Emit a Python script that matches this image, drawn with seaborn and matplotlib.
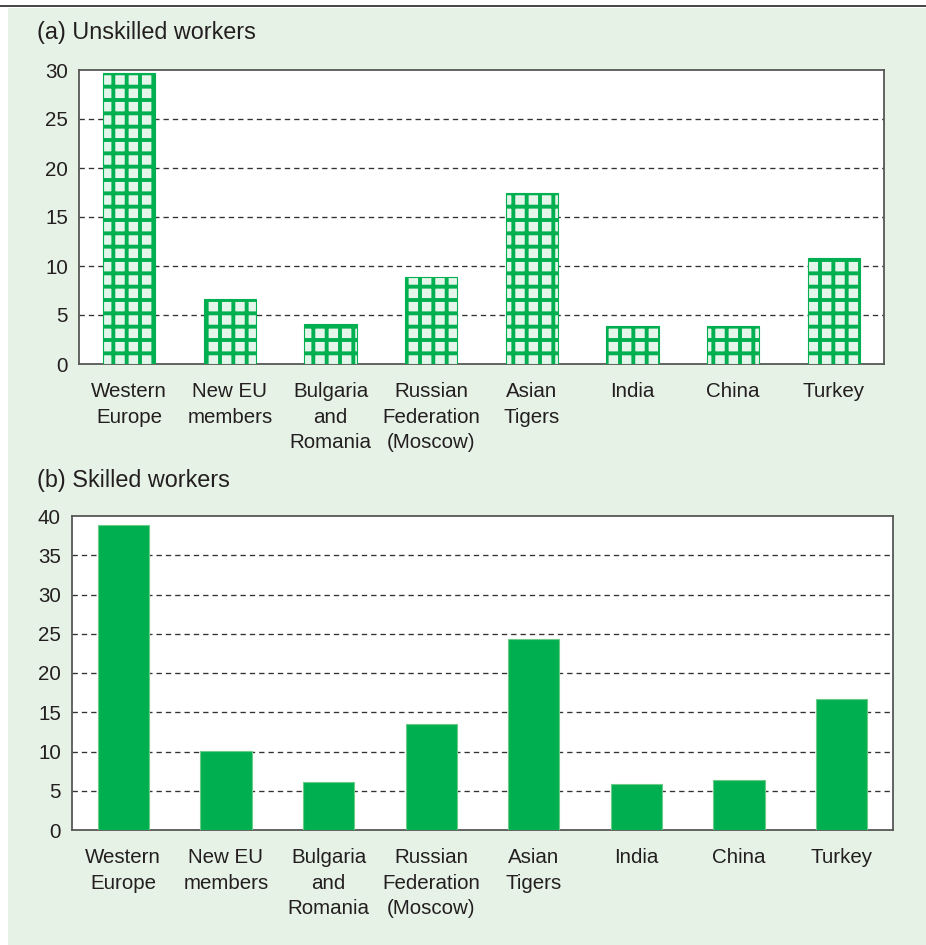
import matplotlib
matplotlib.use("Agg")
import matplotlib.pyplot as plt
import seaborn as sns
import pandas as pd
from matplotlib.patches import Rectangle
from matplotlib.lines import Line2D

regions = [
    "Western\nEurope", "New EU\nmembers", "Bulgaria\nand\nRomania",
    "Russian\nFederation\n(Moscow)", "Asian\nTigers", "India", "China", "Turkey",
]
unskilled = [29.7, 6.6, 4.1, 8.9, 17.4, 3.9, 3.9, 10.8]
skilled = [38.9, 10.1, 6.1, 13.5, 24.3, 5.9, 6.4, 16.7]

GREEN = "#00B050"
EDGE = "#6CCB85"
BG = "#E7F2E7"

sns.set_style("white")
plt.rcParams["font.family"] = ["Liberation Sans", "DejaVu Sans"]
plt.rcParams["hatch.linewidth"] = 3.5

DPI = 80
fig = plt.figure(figsize=(926 / DPI, 945 / DPI), dpi=DPI, facecolor="white")

fig.patches.append(Rectangle((8 / 926, 0), 1, 937 / 945, transform=fig.transFigure,
                             facecolor=BG, edgecolor="none", zorder=-10))
fig.lines.append(Line2D([0, 1], [939 / 945, 939 / 945], transform=fig.transFigure,
                        color="#333333", linewidth=1.6))


def style_axes(ax, ymax):
    ax.set_facecolor("white")
    ax.set_xlim(-0.5, len(regions) - 0.5)
    ax.set_ylim(0, ymax)
    ax.set_yticks(range(0, ymax + 1, 5))
    ax.set_xticks([i + 0.5 for i in range(-1, len(regions))], minor=True)
    ax.tick_params(axis="x", which="major", length=0, pad=16, labelsize=18.5, labelcolor="#231F20")
    ax.tick_params(axis="x", which="minor", length=7, width=1.2, color="#444444", direction="out")
    ax.tick_params(axis="y", length=7, width=1.2, color="#444444", direction="out",
                   labelsize=18.5, pad=3, labelcolor="#231F20")
    for lab in ax.get_xticklabels():
        lab.set_multialignment("center")
        lab.set_linespacing(1.45)
    for sp in ax.spines.values():
        sp.set_color("#555555")
        sp.set_linewidth(1.6)
    for y in range(5, ymax, 5):
        ax.axhline(y, color="#333333", linestyle=(0, (4, 3)), linewidth=1.2, zorder=0)
    ax.set_xlabel("")
    ax.set_ylabel("")


# (a) unskilled workers
ax1 = fig.add_axes([79 / 926, 1 - 364 / 945, 805 / 926, 294 / 945])
df_a = pd.DataFrame({"region": regions, "value": unskilled})
sns.barplot(data=df_a, x="region", y="value", ax=ax1, width=0.52,
            color="white", edgecolor=GREEN, linewidth=1.0, zorder=3)
for bar in ax1.patches:
    bar.set_hatch("+")
    bar.set_facecolor("#E4F6EA")
style_axes(ax1, 30)
fig.text(37 / 926, 1 - 33 / 945, "(a) Unskilled workers", fontsize=21, va="center", ha="left",
         color="#231F20")

# (b) skilled workers
ax2 = fig.add_axes([72 / 926, 1 - 830 / 945, 821 / 926, 314 / 945])
df_b = pd.DataFrame({"region": regions, "value": skilled})
sns.barplot(data=df_b, x="region", y="value", ax=ax2, width=0.5,
            color=GREEN, saturation=1, edgecolor=EDGE, linewidth=1.0, zorder=3)
style_axes(ax2, 40)
fig.text(37 / 926, 1 - 480 / 945, "(b) Skilled workers", fontsize=21, va="center", ha="left",
         color="#231F20")

fig.savefig("out.png", dpi=DPI, facecolor="white")
